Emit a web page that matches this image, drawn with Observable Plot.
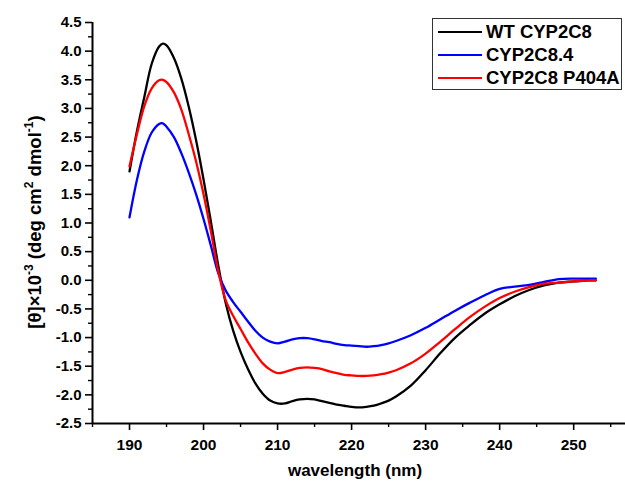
<!DOCTYPE html>
<html>
<head>
<meta charset="utf-8">
<script src="https://cdn.jsdelivr.net/npm/d3@7"></script>
<script src="https://cdn.jsdelivr.net/npm/@observablehq/plot@0.6"></script>
<style>
  body { margin: 0; background: #fff; }
  #wrap { position: relative; width: 625px; height: 482px; font-family: "Liberation Sans", Arial, sans-serif; }
  #legend { position: absolute; left: 432px; top: 18px; width: 190px; height: 72px; border: 1.5px solid #333; background: #fff; box-sizing: border-box; font-weight: bold; font-size: 18.5px; }
  .row { position: absolute; left: 5px; height: 20px; display: flex; align-items: center; white-space: nowrap; }
  .sw { width: 44px; height: 0; border-top: 2.5px solid; margin-right: 4px; }
</style>
</head>
<body>
<div id="wrap"></div>
<script>
const seriesNames = ["WT CYP2C8", "CYP2C8.4", "CYP2C8 P404A"];
const seriesColors = ["#000000", "#0000ff", "#ff0000"];
const wavelength = [190,191,192,193,194,194.5,195,196,197,198,199,200,201,202,203,204,205,206,207,208,209,210,211,212,213,214,215,216,217,218,219,220,221,222,223,224,225,226,228,230,232,234,236,238,240,242,244,246,248,250,252,253];
const wt = [1.90,2.60,3.20,3.78,4.08,4.13,4.10,3.88,3.52,3.03,2.44,1.76,1.02,0.25,-0.40,-0.88,-1.25,-1.55,-1.80,-1.98,-2.10,-2.15,-2.15,-2.11,-2.08,-2.07,-2.08,-2.11,-2.14,-2.17,-2.19,-2.21,-2.22,-2.21,-2.19,-2.15,-2.10,-2.03,-1.84,-1.57,-1.27,-1.00,-0.78,-0.58,-0.42,-0.28,-0.17,-0.09,-0.04,-0.02,0.00,0.00];
const cyp84 = [1.10,1.75,2.25,2.58,2.73,2.74,2.68,2.50,2.22,1.88,1.50,1.07,0.60,0.12,-0.18,-0.38,-0.55,-0.72,-0.88,-1.00,-1.07,-1.10,-1.07,-1.03,-1.01,-1.01,-1.03,-1.06,-1.08,-1.11,-1.13,-1.14,-1.15,-1.16,-1.15,-1.13,-1.10,-1.06,-0.96,-0.83,-0.68,-0.53,-0.39,-0.26,-0.15,-0.11,-0.08,-0.03,0.02,0.03,0.03,0.03];
const p404a = [1.99,2.55,3.04,3.35,3.49,3.50,3.46,3.28,2.98,2.55,2.07,1.50,0.85,0.15,-0.35,-0.62,-0.85,-1.08,-1.28,-1.45,-1.56,-1.62,-1.60,-1.56,-1.53,-1.52,-1.53,-1.55,-1.59,-1.62,-1.65,-1.66,-1.67,-1.67,-1.66,-1.64,-1.61,-1.57,-1.45,-1.28,-1.07,-0.85,-0.64,-0.46,-0.31,-0.20,-0.12,-0.06,-0.04,-0.02,0.00,0.00];
const xTicks = [190,200,210,220,230,240,250];
const xMinorTicks = [185,195,205,215,225,235,245,255];
const yTicks = [-2.5,-2.0,-1.5,-1.0,-0.5,0.0,0.5,1.0,1.5,2.0,2.5,3.0,3.5,4.0,4.5];
const yMinorTicks = [-2.25,-1.75,-1.25,-0.75,-0.25,0.25,0.75,1.25,1.75,2.25,2.75,3.25,3.75,4.25];
const xDomain = [185, 257];
const yDomain = [-2.5, 4.5];

const allSeries = [wt, cyp84, p404a];
const data = allSeries.flatMap((vals, i) => wavelength.map((w, j) => ({wavelength: w, value: vals[j], series: seriesNames[i]})));

const chart = Plot.plot({
  width: 625, height: 482,
  marginLeft: 92, marginRight: 0, marginTop: 22, marginBottom: 59,
  x: {domain: xDomain},
  y: {domain: yDomain},
  color: {domain: seriesNames, range: seriesColors},
  style: {fontFamily: "'Liberation Sans', Arial, sans-serif", fontWeight: "bold", fontSize: "15px", color: "#000", background: "#fff"},
  marks: [
    Plot.axisY({ticks: yTicks, tickSize: 7, tickPadding: 4, strokeWidth: 1.6, tickFormat: d => d.toFixed(1), label: null}),
    Plot.axisY({ticks: yMinorTicks, tickSize: 4, strokeWidth: 1.4, tickFormat: () => "", label: null}),
    Plot.axisX({ticks: xTicks, tickSize: 7, tickPadding: 8, strokeWidth: 1.6, fontSize: 15.5, tickFormat: d => String(d), label: null}),
    Plot.axisX({ticks: xMinorTicks, tickSize: 4, strokeWidth: 1.4, tickFormat: () => "", label: null}),
    Plot.ruleY([yDomain[0]], {stroke: "#000", strokeWidth: 2}),
    Plot.ruleX([xDomain[0]], {stroke: "#000", strokeWidth: 2}),
    Plot.line(data, {x: "wavelength", y: "value", z: "series", stroke: "series", strokeWidth: 2.3, curve: "catmull-rom"})
  ]
});

const wrap = document.getElementById("wrap");
wrap.appendChild(chart);

const svg = d3.select(chart);
const yl = svg.append("text")
  .attr("transform", "translate(41,222) rotate(-90)")
  .attr("text-anchor", "middle")
  .attr("font-size", 18.5).attr("font-weight", "bold")
  .attr("font-family", "'Liberation Sans', Arial, sans-serif")
  .attr("fill", "#000");
yl.append("tspan").text("[θ]×10");
yl.append("tspan").attr("dy", -8).attr("font-size", 12).text("-3");
yl.append("tspan").attr("dy", 8).text(" (deg cm");
yl.append("tspan").attr("dy", -8).attr("font-size", 12).text("2");
yl.append("tspan").attr("dy", 8).text(" dmol");
yl.append("tspan").attr("dy", -8).attr("font-size", 12).text("-1");
yl.append("tspan").attr("dy", 8).text(")");

svg.append("text")
  .attr("x", 355).attr("y", 476)
  .attr("text-anchor", "middle")
  .attr("font-size", 17).attr("font-weight", "bold")
  .attr("font-family", "'Liberation Sans', Arial, sans-serif")
  .attr("fill", "#000")
  .text("wavelength (nm)");

const legend = document.createElement("div");
legend.id = "legend";
seriesNames.forEach((name, i) => {
  const row = document.createElement("div");
  row.className = "row";
  row.style.top = (3 + i * 23) + "px";
  const sw = document.createElement("div");
  sw.className = "sw";
  sw.style.borderTopColor = seriesColors[i];
  const t = document.createElement("span");
  t.textContent = name;
  row.appendChild(sw); row.appendChild(t);
  legend.appendChild(row);
});
wrap.appendChild(legend);
</script>
</body>
</html>
